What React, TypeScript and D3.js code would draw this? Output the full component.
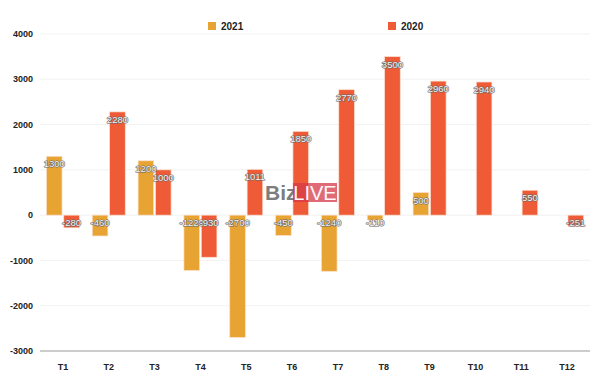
import { useEffect, useRef } from 'react'
import * as d3 from 'd3'

const months = ['T1', 'T2', 'T3', 'T4', 'T5', 'T6', 'T7', 'T8', 'T9', 'T10', 'T11', 'T12']
const seriesNames = ['2021', '2020']
const values2021: (number | null)[] = [1300, -460, 1200, -1220, -2700, -450, -1240, -110, 500, null, null, null]
const values2020: (number | null)[] = [-280, 2280, 1000, -930, 1011, 1850, 2770, 3500, 2960, 2940, 550, -251]
const yTicks = [-3000, -2000, -1000, 0, 1000, 2000, 3000, 4000]
const colors = ['#E8A433', '#EE5B36']

const App = () => {
  const svgRef = useRef(null)

  useEffect(() => {
    const width = 600
    const height = 387
    const left = 40, right = 590, top = 34, bottom = 351

    const svg = d3.select(svgRef.current)
    svg.selectAll('*').remove()
    svg.attr('width', width).attr('height', height)
      .style('font-family', '"Liberation Sans", Arial, sans-serif')

    const x = d3.scaleBand().domain(months).range([left, right])
    const sub = d3.scaleBand().domain(seriesNames).range([-16.5, 16.5]).paddingInner(0.1)
    const y = d3.scaleLinear().domain([-3000, 4000]).range([bottom, top])

    // grid
    svg.append('g').selectAll('line')
      .data(yTicks.filter(t => t !== -3000))
      .join('line')
      .attr('x1', left).attr('x2', right)
      .attr('y1', d => y(d)).attr('y2', d => y(d))
      .attr('stroke', '#f2f2f2').attr('stroke-width', 1)

    svg.append('g').selectAll('text')
      .data(yTicks)
      .join('text')
      .attr('x', 33).attr('y', d => y(d))
      .attr('dy', '0.35em')
      .attr('text-anchor', 'end')
      .style('font-size', '9px').style('font-weight', 'bold')
      .attr('fill', '#222')
      .text(d => d)

    svg.append('line')
      .attr('x1', left).attr('x2', right)
      .attr('y1', y(-3000)).attr('y2', y(-3000))
      .attr('stroke', '#bbb').attr('stroke-width', 1.5)

    svg.append('g').selectAll('text')
      .data(months)
      .join('text')
      .attr('x', d => x(d)! + x.bandwidth() / 2)
      .attr('y', 370)
      .attr('text-anchor', 'middle')
      .style('font-size', '9px').style('font-weight', 'bold')
      .attr('fill', '#222')
      .text(d => d)

    const series = [values2021, values2020]
    series.forEach((vals, si) => {
      const data = months.map((m, i) => ({ m, v: vals[i] })).filter(d => d.v !== null) as { m: string, v: number }[]
      const g = svg.append('g')
      g.selectAll('rect')
        .data(data)
        .join('rect')
        .attr('x', d => x(d.m)! + x.bandwidth() / 2 + sub(seriesNames[si])!)
        .attr('width', sub.bandwidth())
        .attr('y', d => y(Math.max(0, d.v)))
        .attr('height', d => Math.abs(y(d.v) - y(0)))
        .attr('fill', colors[si])
        .attr('stroke', '#fbe0d0').attr('stroke-width', 0.7)
    })

    // watermark
    const wm = svg.append('g')
    wm.append('text').attr('x', 265).attr('y', 200)
      .style('font-size', '21px').style('font-weight', 'bold')
      .attr('fill', '#6f6f6f').attr('opacity', 0.9).text('Biz')
    wm.append('rect').attr('x', 293).attr('y', 183).attr('width', 44).attr('height', 19)
      .attr('fill', '#d63a48').attr('opacity', 0.75)
    wm.append('text').attr('x', 315).attr('y', 200).attr('text-anchor', 'middle')
      .style('font-size', '20px').attr('fill', '#fff').attr('opacity', 0.95).text('LIVE')

    series.forEach((vals, si) => {
      const data = months.map((m, i) => ({ m, v: vals[i] })).filter(d => d.v !== null) as { m: string, v: number }[]
      svg.append('g').selectAll('text')
        .data(data)
        .join('text')
        .attr('x', d => x(d.m)! + x.bandwidth() / 2 + sub(seriesNames[si])! + sub.bandwidth() / 2)
        .attr('y', d => y(Math.max(0, d.v)) + 11)
        .attr('text-anchor', 'middle')
        .style('font-size', '9.5px')
        .attr('fill', '#f4f4f4')
        .attr('stroke', '#666').attr('stroke-width', 1.2)
        .attr('paint-order', 'stroke')
        .attr('stroke-linejoin', 'round')
        .text(d => d.v)
    })

    // legend
    const legendX = [208, 388]
    seriesNames.forEach((s, i) => {
      svg.append('rect').attr('x', legendX[i]).attr('y', 22).attr('width', 8).attr('height', 8)
        .attr('fill', colors[i])
      svg.append('text').attr('x', legendX[i] + 13).attr('y', 30)
        .style('font-size', '10px').style('font-weight', 'bold').attr('fill', '#222')
        .text(s)
    })
  }, [])

  return (
    <div style={{ position: 'absolute', left: 0, top: 0 }}>
      <svg ref={svgRef}></svg>
    </div>
  )
}

export default App
